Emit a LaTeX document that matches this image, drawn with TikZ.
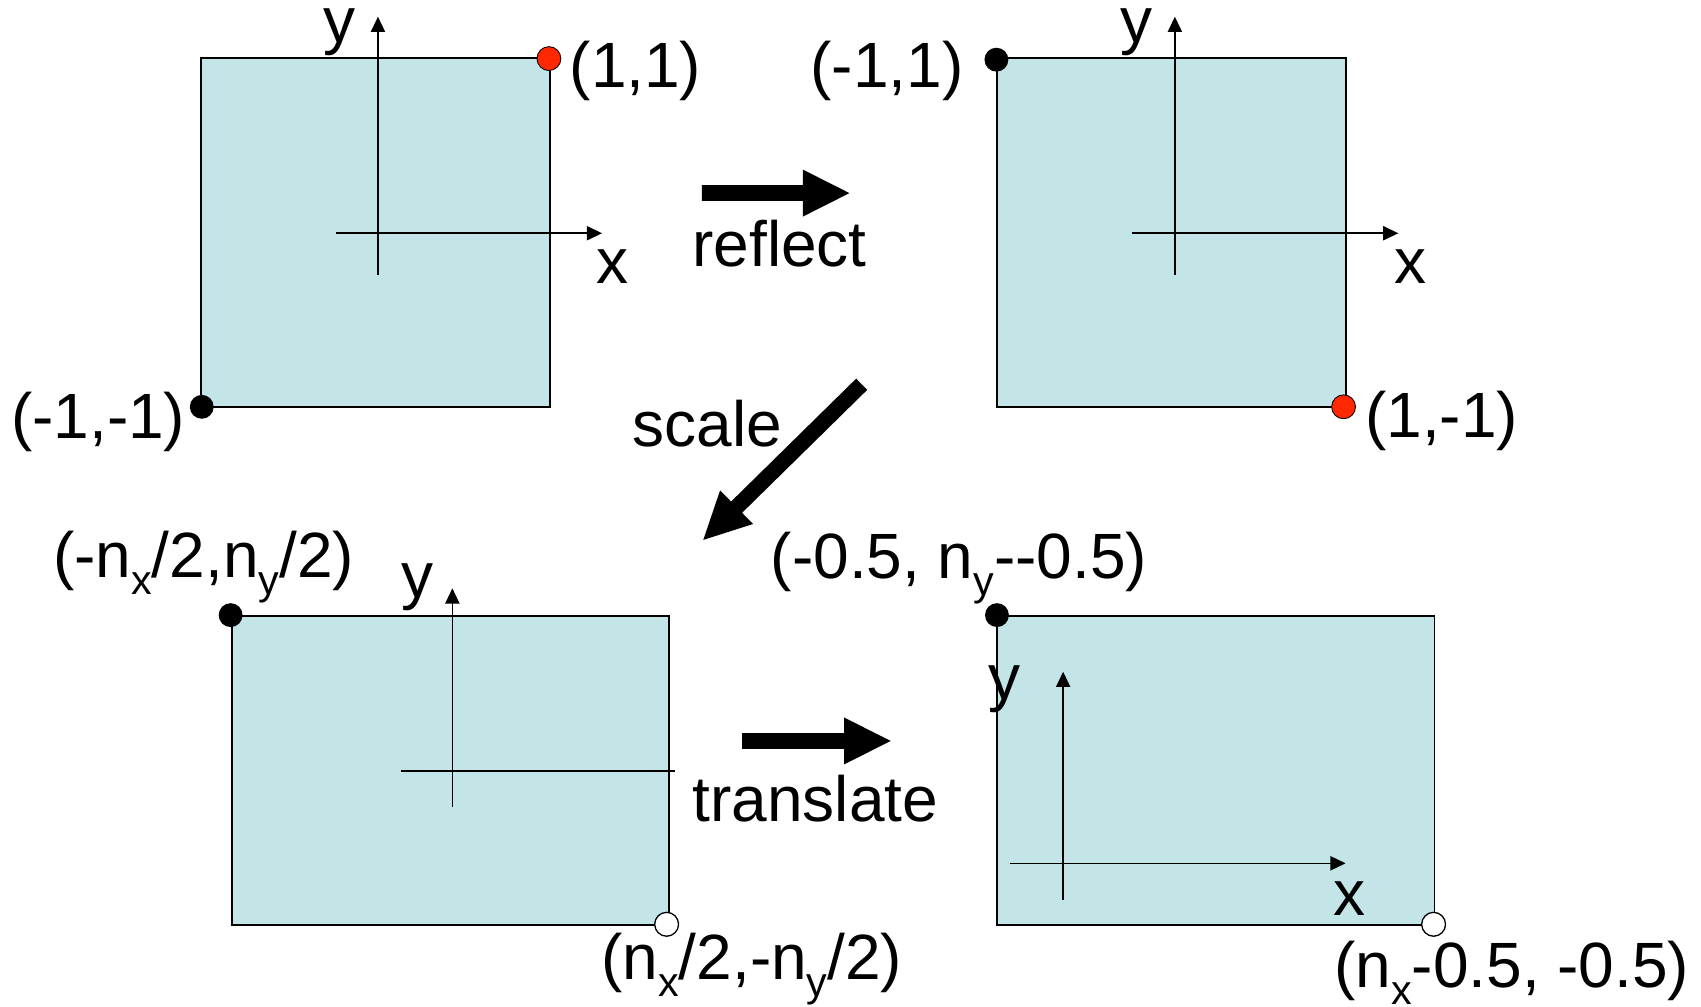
\documentclass[tikz,border=0pt]{standalone}
\usepackage{fontspec}
\setmainfont{Liberation Sans}
\usetikzlibrary{arrows.meta}
\definecolor{panelfill}{RGB}{196,229,232}
\definecolor{dotred}{RGB}{255,40,0}
\newcommand{\sbs}[1]{\raisebox{-8pt}{\fontsize{19}{20}\selectfont #1}}
\begin{document}
\begin{tikzpicture}[x=0.5pt,y=-0.5pt,
  panel/.style={draw=black, line width=0.9pt, fill=panelfill},
  axis/.style={line width=0.75pt, -{Triangle[length=7pt,width=6.5pt]}},
  plainaxis/.style={line width=0.75pt},
  lbl/.style={font=\fontsize{29.5}{34}\selectfont, inner sep=0pt, anchor=base},
  reddot/.style={circle, draw=black, line width=0.4pt, fill=dotred, minimum size=11pt, inner sep=0pt},
  blackdot/.style={circle, fill=black, minimum size=11pt, inner sep=0pt},
  whitedot/.style={circle, draw=black, line width=0.6pt, fill=white, minimum size=11pt, inner sep=0pt},
  pics/barrow/.style={code={\fill[black] (0,-7.25) -- (#1-43,-7.25) -- (#1-43,-21.7) -- (#1,0) -- (#1-43,21.7) -- (#1-43,7.25) -- (0,7.25) -- cycle;}}]
\useasboundingbox (0,0) rectangle (1568,928);

% panels
\draw[panel] (185.5,53.8) rectangle (506.6,375);
\draw[panel] (919.4,53.8) rectangle (1240.4,374.9);
\draw[panel] (213.7,567.9) rectangle (616.6,852.7);
\draw[panel] (919.4,567.9) rectangle (1322.3,852.7);

% axis end points
\coordinate (a1yb) at (348.4,253.5); \coordinate (a1yt) at (348.4,15.4);
\coordinate (a1xl) at (310,215);     \coordinate (a1xr) at (555,215);
\coordinate (a2yb) at (1083,253.5);  \coordinate (a2yt) at (1083,15.4);
\coordinate (a2xl) at (1043.7,215);  \coordinate (a2xr) at (1289,215);
\coordinate (a3yb) at (417,743.6);   \coordinate (a3yt) at (417,542.3);
\coordinate (a3xl) at (369.4,710.7); \coordinate (a3xr) at (622,710.7);
\coordinate (a4yb) at (980,829.7);   \coordinate (a4yt) at (980,619.2);
\coordinate (a4xl) at (930.8,795.8); \coordinate (a4xr) at (1240.4,795.8);

\draw[axis] (a1yb) -- (a1yt);
\draw[axis] (a1xl) -- (a1xr);
\draw[axis] (a2yb) -- (a2yt);
\draw[axis] (a2xl) -- (a2xr);
\draw[axis] (a3yb) -- (a3yt);
\draw[plainaxis] (a3xl) -- (a3xr);
\draw[axis] (a4yb) -- (a4yt);
\draw[axis] (a4xl) -- (a4xr);

% axis labels
\node[lbl] (y1) at (313,39) {y};
\node[lbl] (x1) at (565,261) {x};
\node[lbl] (y2) at (1048,39) {y};
\node[lbl] (x2) at (1300,261) {x};
\node[lbl] (y3) at (385,550.5) {y};
\node[lbl] (y4) at (926,645) {y};
\node[lbl] (x4) at (1244.3,843.5) {x};

% corner dots
\node[reddot] (d1r) at (506,54) {};
\node[blackdot] (d1b) at (186,375) {};
\node[blackdot] (d2b) at (918.5,55) {};
\node[reddot] (d2r) at (1238.5,375) {};
\node[blackdot] (d3b) at (212.6,567) {};
\node[whitedot] (d3w) at (614.5,852) {};
\node[blackdot] (d4b) at (919,567) {};
\node[whitedot] (d4w) at (1321.5,852) {};

% coordinate labels
\node[lbl] (l11) at (585.8,80.6) {(1,1)};
\node[lbl] (lmm) at (90.5,404) {(-1,-1)};
\node[lbl] (lm1) at (817.6,81) {(-1,1)};
\node[lbl] (l1m) at (1329,403) {(1,-1)};
\node[lbl] (lb1) at (187.6,532) {(-n\sbs{x}/2,n\sbs{y}/2)};
\node[lbl] (lb2) at (693,903) {(n\sbs{x}/2,-n\sbs{y}/2)};
\node[lbl] (lc1) at (884,533) {(-0.5, n\sbs{y}-\kern0pt-0.5)};
\node[lbl] (lc2) at (1393.5,910) {(n\sbs{x}-0.5, -0.5)};

% transformation arrows
\coordinate (rfs) at (647,178);
\coordinate (scs) at (794.3,354.2);
\coordinate (trs) at (684,683);
\pic at (rfs) {barrow=136};
\pic[rotate=224.5] at (scs) {barrow=204.7};
\pic at (trs) {barrow=137};

\node[lbl] (treflect) at (718.5,246) {reflect};
\node[lbl] (tscale) at (652,412) {scale};
\node[lbl] (ttranslate) at (751.5,757) {translate};
\end{tikzpicture}
\end{document}
